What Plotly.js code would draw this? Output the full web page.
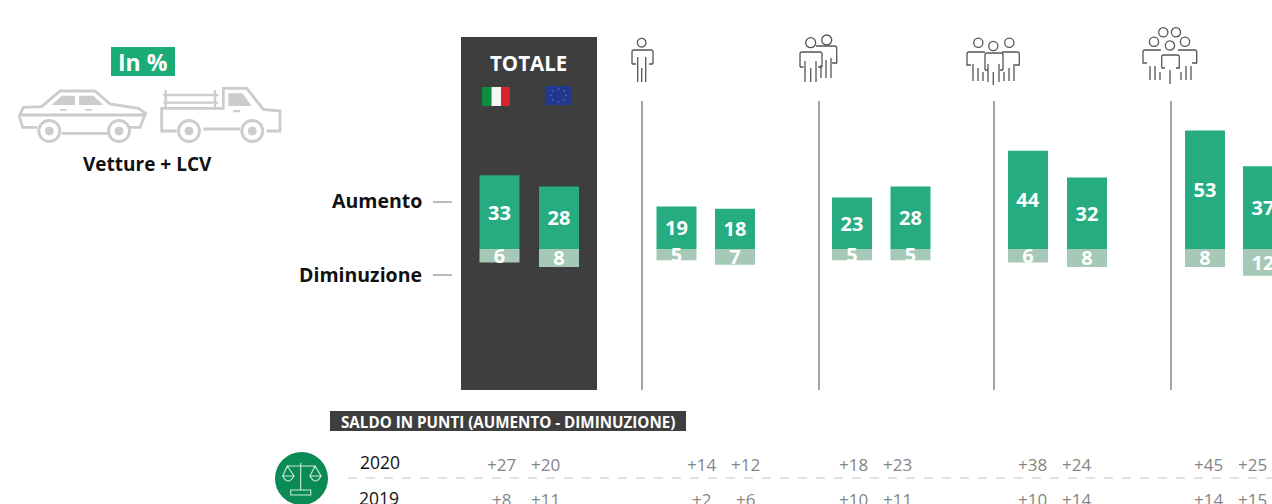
<!DOCTYPE html>
<html><head><meta charset="utf-8">
<script src="https://cdn.plot.ly/plotly-3.0.0.min.js"></script>
<style>html,body{margin:0;padding:0;background:#fff;overflow:hidden}#c{width:1272px;height:504px}</style>
</head><body><div id="c"></div>
<script>
// DATA
const aumento = [33,28,19,18,23,28,44,32,53,37];
const diminuzione = [6,8,5,7,5,5,6,8,8,12];
const saldo2020 = ['+27','+20','+14','+12','+18','+23','+38','+24','+45','+25'];
const saldo2019 = ['+8','+11','+2','+6','+10','+11','+10','+14','+14','+15'];
const years = ['2020','2019'];
// LAYOUT POSITIONS (page-scale axis)
const barX = [499.5,559,676.5,735,852,910.5,1028,1087,1205,1263];
const saldoX = [501,545,701,745,853,897,1032,1076,1208,1252];
const sepX = [642,819,994,1171];
const U = 2.235, BASE = 249;
const py = p => (BASE - p) / U;
const GREEN='#26ac80', LIGHT='#a6c8b6', DARK='#3e3e3e', HEAD='"Open Sans", sans-serif';

const shapes=[], ann=[];
function rect(x0,y0,x1,y1,fill,layer){shapes.push({type:'rect',xref:'x',yref:'y',x0,x1,y0:py(y0),y1:py(y1),fillcolor:fill,line:{width:0},layer:layer||'below'});}
function line(x0,y0,x1,y1,color,w,dash){shapes.push({type:'line',xref:'x',yref:'y',x0,x1,y0:py(y0),y1:py(y1),line:{color,width:w,dash:dash||'solid'},layer:'below'});}
function circ(cx,cy,r,stroke,w,fill){shapes.push({type:'circle',xref:'x',yref:'y',x0:cx-r,x1:cx+r,y0:py(cy-r),y1:py(cy+r),line:{color:stroke,width:w},fillcolor:fill||'rgba(0,0,0,0)',layer:'above'});}
function pth(d,ox,oy,s,stroke,w,fill){
  let isX=true;
  const out=d.replace(/-?\d+(\.\d+)?/g,m=>{const v=parseFloat(m);const r=isX?(ox+v*s):py(oy+v*s);isX=!isX;return r.toFixed(3);});
  shapes.push({type:'path',xref:'x',yref:'y',path:out,line:{color:stroke,width:w},fillcolor:fill||'rgba(0,0,0,0)',layer:'above'});
}
function txt(x,y,t,size,color,bold,anchor,font){ann.push({xref:'x',yref:'y',x,y:py(y),text:bold?'<b>'+t+'</b>':t,showarrow:false,xanchor:anchor||'center',yanchor:'middle',font:{family:font||HEAD,size,color}});}

// panels
rect(461,37,597,390,DARK);
sepX.forEach(x=>line(x,101,x,390,'#6a6a6a',1.2));
// flags
rect(482,87,491.5,106,'#0c8a3e','above');rect(491.5,87,501,106,'#f5f5f5','above');rect(501,87,510,106,'#d8232f','above');
rect(545,86,572,105,'#20398f','above');
[[558.5,89],[564,91],[566,95.5],[564,100],[558.5,102],[553,100],[551,95.5],[553,91]].forEach(p=>circ(p[0],p[1],0.6,'#5f78c4',0.5,'#5f78c4'));
// labels
txt(528,63,'TOTALE',20.5,'#ffffff',true);
txt(424,200,'Aumento',19.5,'#111',true,'right');
txt(424,274,'Diminuzione',19.5,'#111',true,'right');
line(433,202,452,202,'#777',1);line(433,275,452,275,'#777',1);
// In %
rect(111,47,175,76,'#1bab76');
txt(143,62,'In %',23,'#fff',true);
txt(147.5,164,'Vetture + LCV',19,'#111',true);
// vehicles: coordinates in a 3x sketch grid
const C='#cccccc', Z=1/3;
pth('M112 292 L68 292 L58 258 L70 232 L125 230 L180 183 L285 183 L330 222 L415 235 L437 250 L420 292 L390 292 M325 310 L185 310 M60 255 L435 255',0,30,Z,C,2.8);
pth('M155 225 L185 197 L225 197 L225 225 Z M237 197 L280 197 L310 225 L237 225 Z M180 237 L200 237 L200 242 L180 242 Z M255 237 L275 237 L275 242 L255 242 Z',0,30,Z,C,0,C);
circ(49.3,131,10.5,C,2.8);circ(49.3,131,4,C,1,C);
circ(119,131,10.5,C,2.8);circ(119,131,4,C,1,C);
pth('M530 303 L485 303 L485 235 L670 235 L670 175 L740 175 L790 238 L840 243 L840 303 L800 303 M610 297 L720 297',0,30,Z,C,2.8);
pth('M497 180 L497 232 M645 180 L645 232 M490 195 L655 195 M490 218 L655 218',0,30,Z,C,2.4);
pth('M685 190 L728 190 L755 228 L685 228 Z M700 240 L720 240 L720 247 L700 247 Z',0,30,Z,C,0,C);
circ(189,131,10.5,C,2.8);circ(189,131,4,C,1,C);
circ(252.3,131,10.5,C,2.8);circ(252.3,131,4,C,1,C);
// people icons
const P='#555555', PW=1.3;
const draw=d=>pth(d,0,0,1,P,PW);
// single
circ(641.7,42.7,4.3,P,PW);
draw('M632 64 L632 52 Q632 50 634 50 L651 50 Q653 50 653 52 L653 64 M632 64 L636 64 M653 64 L649 64 M637.7 57 L637.7 82 M641.7 68 L641.7 82 M645.7 57 L645.7 82');
// two
circ(810.7,42.7,5,P,PW);circ(826.7,40,5,P,PW);
draw('M800 67 L800 54 Q800 52 802 52 L820 52 Q822 52 822 54 L822 67 M800 67 L803.5 67 M822 67 L818 67 M805 61 L805 82 M810.7 68 L810.7 82 M816 61 L816 82');
draw('M816 46 L834.5 46 Q836.7 46 836.7 48 L836.7 63 L832 63 M821 65 L821 78 M826 60 L826 78 M831 58 L831 78');
// three
circ(978.3,42.7,4.6,P,PW);circ(1009.3,42.7,4.6,P,PW);circ(993.3,46,4.6,P,PW);
draw('M985 52 L969 52 Q967 52 967 54 L967 65 L971 65 M1002 52 L1017 52 Q1019.3 52 1019.3 54 L1019.3 65 L1015 65 M985 70 L985 55 Q985 53 987 53 L1001 53 Q1003 53 1003 55 L1003 70 M985 70 L988 70 M1003 70 L1000 70');
draw('M973 64 L973 81 M978 68 L978 81 M983 72 L983 81 M1004 72 L1004 81 M1009 68 L1009 81 M1014 64 L1014 81 M993.3 72 L993.3 85 M988 64 L988 82 M999 64 L999 82');
// five
circ(1163.3,32.3,4.6,P,PW);circ(1176,32.3,4.6,P,PW);circ(1154,41.7,4.6,P,PW);circ(1185,41.7,4.6,P,PW);circ(1170,45.5,4.6,P,PW);
draw('M1161 50 L1145 50 Q1143 50 1143 52 L1143 63 L1147 63 M1178 50 L1194.5 50 Q1196.7 50 1196.7 52 L1196.7 63 L1192 63 M1161.7 68 L1161.7 57 Q1161.7 55 1163.7 55 L1177.3 55 Q1179.3 55 1179.3 57 L1179.3 68 L1176 68 M1161.7 68 L1165 68');
draw('M1150 66 L1150 80 M1155 66 L1155 80 M1160 72 L1160 80 M1181 72 L1181 80 M1186 66 L1186 80 M1191 66 L1191 80 M1170 70 L1170 84');
// saldo
rect(330,411,686,431,DARK);
txt(507.5,422,'SALDO IN PUNTI (AUMENTO - DIMINUZIONE)',15.2,'#fff',true);
line(348,478,1272,478,'#c4c4c4',1.2,'dash');
txt(380,462,years[0],17.5,'#111',false);
txt(379,498,years[1],17.5,'#111',false);
saldoX.forEach((x,i)=>{txt(x,464,saldo2020[i],17,'#858585');txt(x,499,saldo2019[i],17,'#858585');});
// scale icon
shapes.push({type:'circle',xref:'x',yref:'y',x0:275,x1:328,y0:py(452),y1:py(505),fillcolor:'#0a8a55',line:{width:0},layer:'below'});
const W='#cfeadd';
pth('M300.7 463 L300.7 490 M287 466 L315 466 M287.3 466 L282.7 476 L294 476 Z M315 466 L310 476 L321 476 Z M282.7 476 Q288 486 294 476 M310 476 Q315.5 486 321 476 M290.7 490 L310.7 490 L310.7 495 L290.7 495 Z',0,0,1,W,1.1);

const mk=(vals,sign,color)=>({type:'bar',x:barX,y:vals.map(v=>sign*v),width:40,base:0,
  marker:{color,line:{width:0}},text:vals.map(String),textposition:'inside',insidetextanchor:'middle',
  constraintext:'none',textangle:0,textfont:{family:'"Open Sans", sans-serif',size:20,color:'#fff',weight:700},
  hoverinfo:'skip',cliponaxis:true});
Plotly.newPlot('c',[mk(aumento,1,GREEN),mk(diminuzione,-1,LIGHT)],{
  width:1272,height:504,margin:{l:0,r:0,t:0,b:0},paper_bgcolor:'#fff',plot_bgcolor:'#fff',showlegend:false,barmode:'overlay',
  xaxis:{range:[0,1272],visible:false,fixedrange:true},
  yaxis:{range:[py(504),py(0)],visible:false,fixedrange:true},
  shapes,annotations:ann
},{displayModeBar:false,staticPlot:true});
</script></body></html>
